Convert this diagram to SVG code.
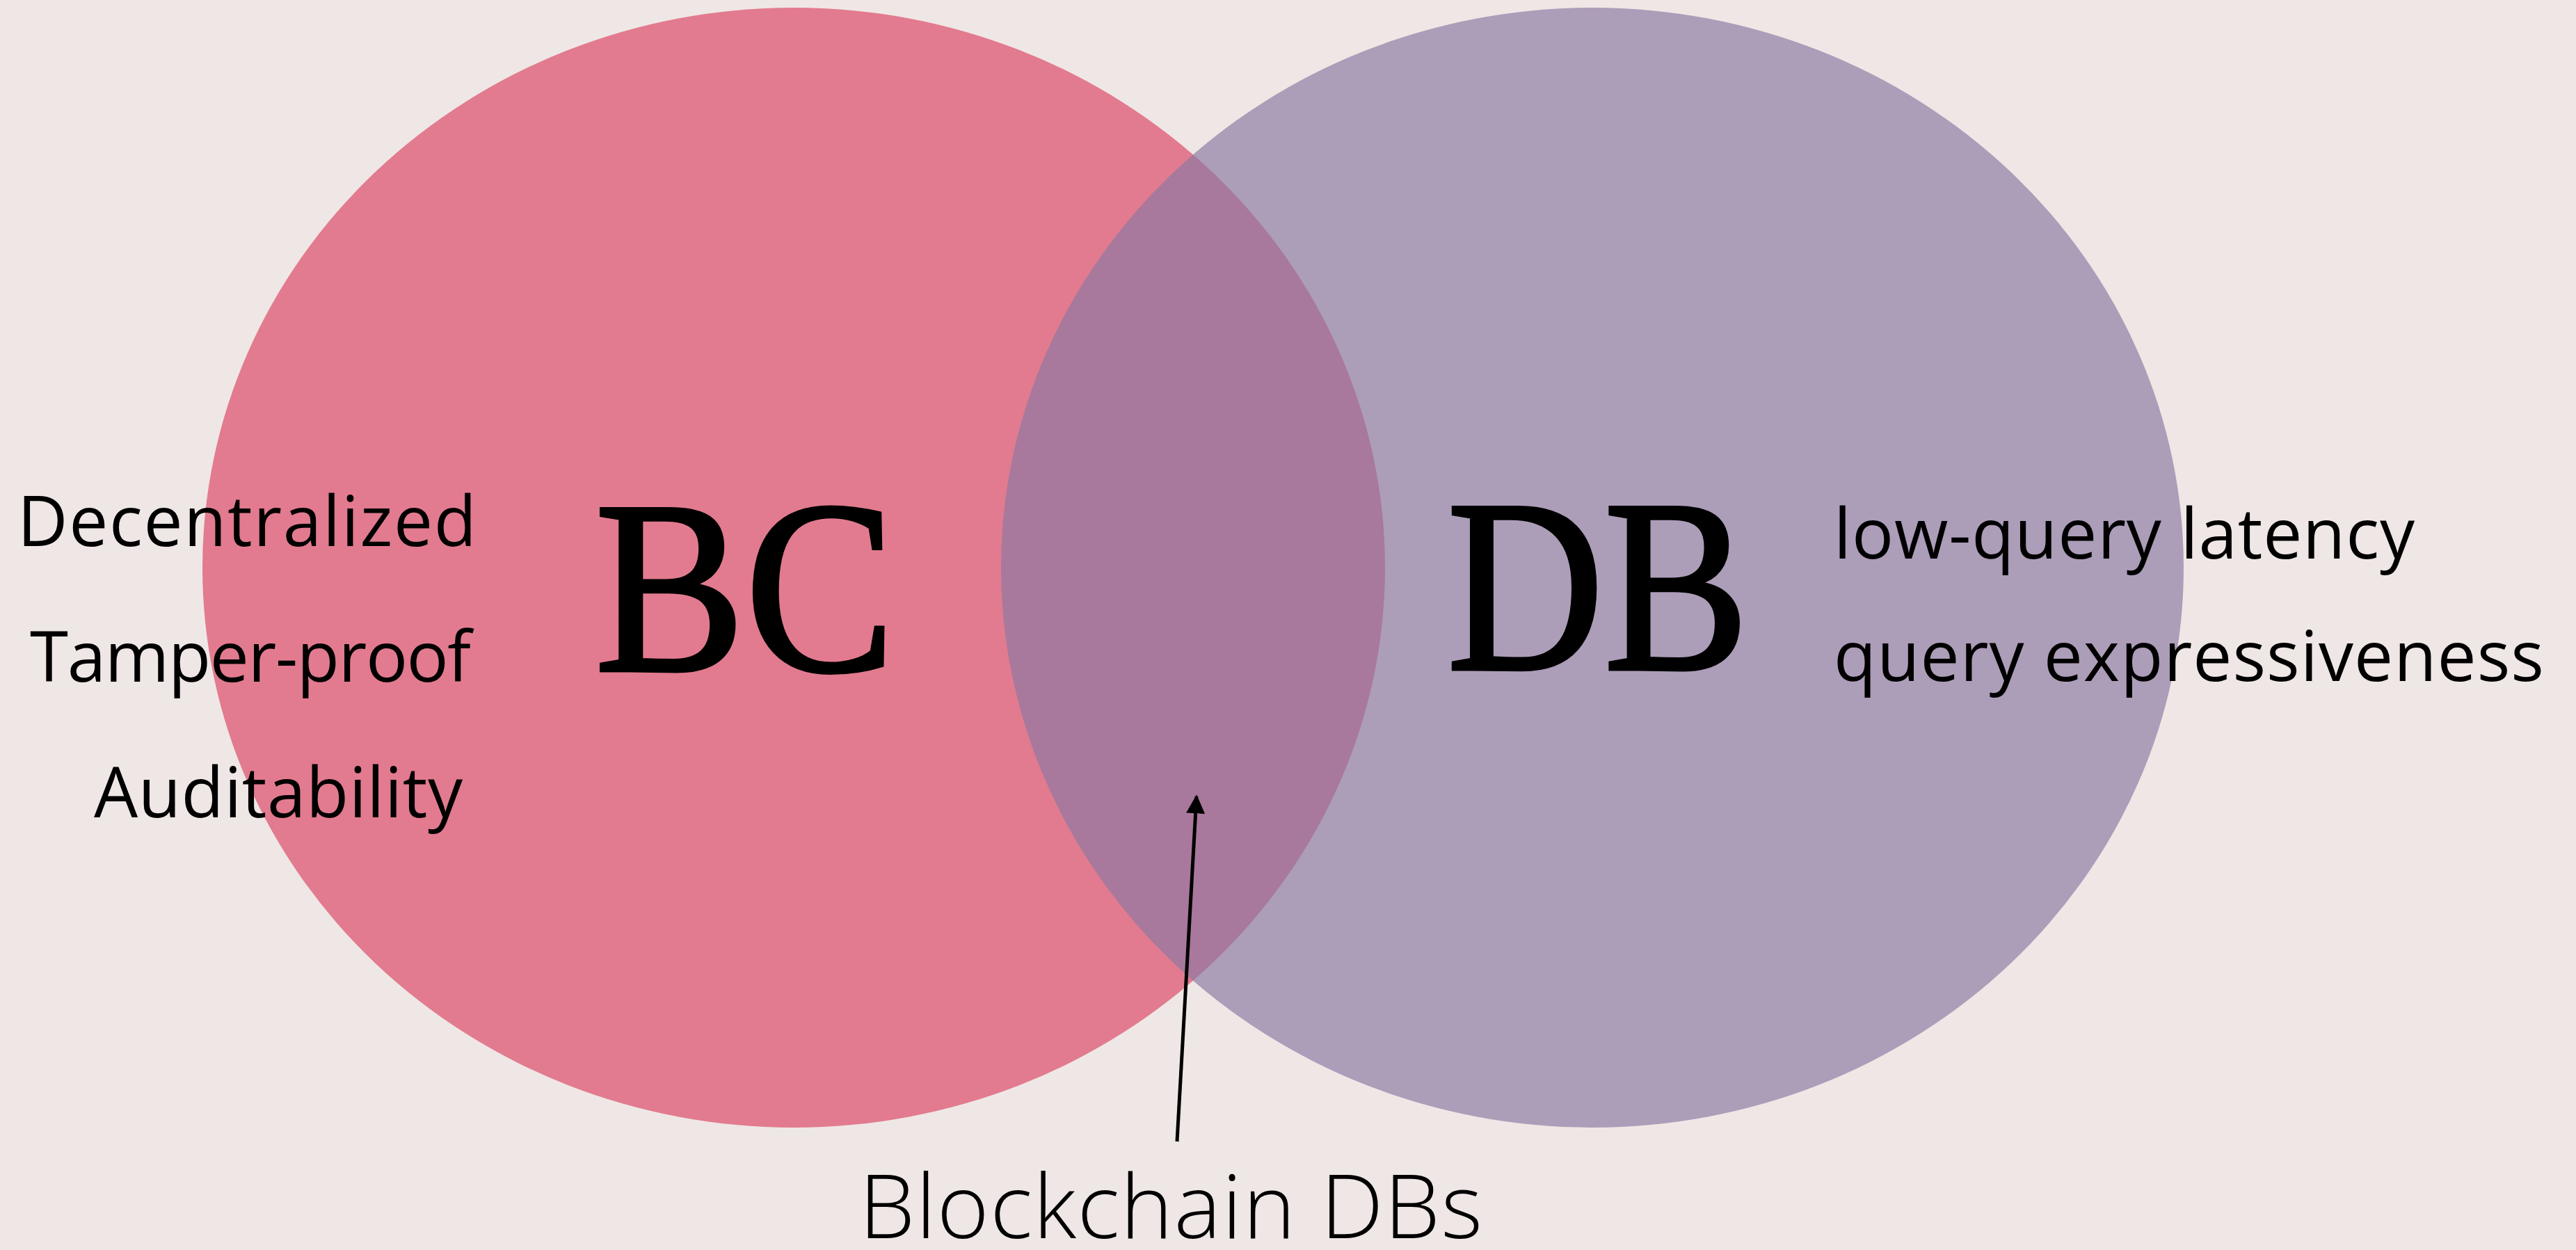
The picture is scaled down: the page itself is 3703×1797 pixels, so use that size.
<svg xmlns="http://www.w3.org/2000/svg" width="3703" height="1797" viewBox="0 0 3703 1797">
  <defs>
    <style>
      .label { font-family: "Open Sans", "Liberation Sans", sans-serif; font-size: 100px; fill: #000; }
      .title { font-family: "Liberation Serif", "DejaVu Serif", serif; font-size: 355px; fill: #000; stroke: #000; stroke-width: 5; }
      .caption { font-family: "Open Sans", "Liberation Sans", sans-serif; font-weight: 300; font-size: 128px; fill: #000; }
      .link { stroke: #000; stroke-width: 5; fill: none; }
    </style>
    <marker id="arrowhead" viewBox="0 0 10 10" refX="9" refY="5" markerWidth="5.4" markerHeight="5.4" markerUnits="strokeWidth" orient="auto">
      <path d="M0,0 L10,5 L0,10 z" fill="#000"/>
    </marker>
  </defs>

  <!-- background -->
  <rect x="0" y="0" width="3703" height="1797" fill="#EFE7E5"/>

  <!-- blockchain set -->
  <g id="node-bc">
    <ellipse cx="1141" cy="816" rx="850" ry="805" fill="#E27B8F"/>
    <text class="title" x="855" y="964" textLength="432" lengthAdjust="spacingAndGlyphs">BC</text>
  </g>

  <!-- database set, translucent so the overlap shows through -->
  <g id="node-db">
    <ellipse cx="2289" cy="816" rx="850" ry="805" fill="#8B79A3" fill-opacity="0.67"/>
    <text class="title" x="2080" y="962" textLength="434" lengthAdjust="spacingAndGlyphs">DB</text>
  </g>

  <!-- blockchain properties -->
  <g id="node-bc-props">
    <text class="label" x="25" y="785" textLength="660">Decentralized</text>
    <text class="label" x="43" y="980" textLength="634">Tamper-proof</text>
    <text class="label" x="135" y="1175" textLength="530">Auditability</text>
  </g>

  <!-- database properties -->
  <g id="node-db-props">
    <text class="label" x="2636" y="803" textLength="835">low-query latency</text>
    <text class="label" x="2636" y="979" textLength="1021">query expressiveness</text>
  </g>

  <!-- intersection caption -->
  <g id="node-blockchain-dbs">
    <text class="caption" x="1235" y="1780" textLength="896">Blockchain DBs</text>
  </g>

  <g id="connectors">
    <line class="link" x1="1692" y1="1641" x2="1720" y2="1145" marker-end="url(#arrowhead)"/>
  </g>
</svg>
